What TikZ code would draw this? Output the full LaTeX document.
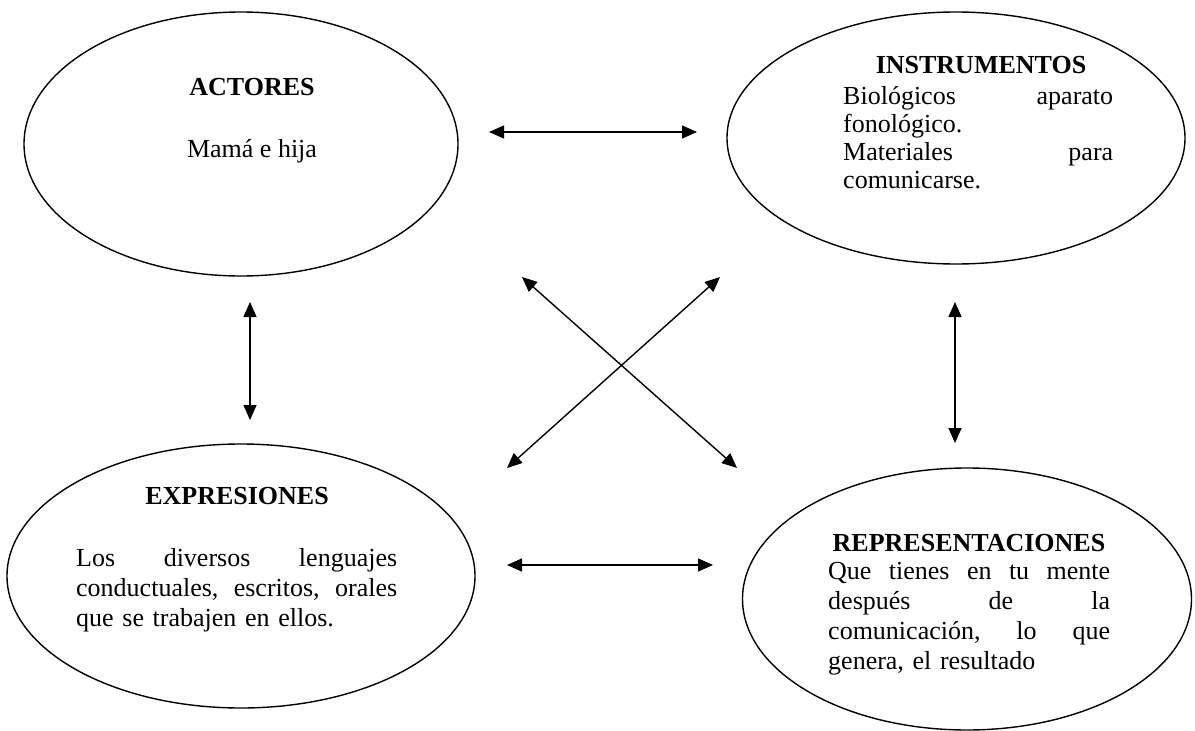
\documentclass[tikz,border=0pt]{standalone}
\usepackage{fontspec}
\setmainfont{Liberation Serif}
\usetikzlibrary{shapes.geometric,arrows.meta}

\begin{document}
\begin{tikzpicture}[x=1pt,y=-1pt,
    globo/.style={draw, ellipse, line width=1.4pt, inner sep=0pt},
    titulo/.style={anchor=base, inner sep=0pt, font=\fontsize{26}{28}\selectfont\bfseries},
    texto/.style={anchor=base west, inner sep=0pt, align=left, font=\fontsize{26}{30}\selectfont},
    flecha/.style={line width=1.4pt, {Triangle[length=15pt,width=13pt]}-{Triangle[length=15pt,width=13pt]}}]
  \useasboundingbox (0,0) rectangle (1195,731);

  % los cuatro globos
  \node[globo, minimum width=434pt, minimum height=264pt] (actores) at (241,144) {};
  \node[globo, minimum width=458pt, minimum height=252pt] (instrumentos) at (956,138) {};
  \node[globo, minimum width=468pt, minimum height=264pt] (expresiones) at (241,576) {};
  \node[globo, minimum width=449pt, minimum height=262pt] (representaciones) at (967,599) {};

  % textos
  \node[titulo] (tactores) at (252,95) {ACTORES};
  \node[anchor=base, inner sep=0pt, font=\fontsize{26}{28}\selectfont] (mama) at (252,157) {Mamá e hija};

  \node[titulo] (tinstrumentos) at (981,73) {INSTRUMENTOS};
  \node[texto, text width=270pt, font=\fontsize{26}{28}\selectfont] (binstrumentos) at (843,104)
    {Biológicos\hfill aparato\\fonológico.\\Materiales\hfill para\\comunicarse.};

  \node[titulo] (texpresiones) at (237,504) {EXPRESIONES};
  \node[texto, text width=321pt] (bexpresiones) at (76,566)
    {Los\hfill diversos\hfill lenguajes\\conductuales,\hfill escritos,\hfill orales\\que se trabajen en ellos.};

  \node[titulo] (trepresentaciones) at (969,551) {REPRESENTACIONES};
  \node[texto, text width=282pt] (brepresentaciones) at (828,579)
    {Que\hfill tienes\hfill en\hfill tu\hfill mente\\después\hfill de\hfill la\\comunicación,\hfill lo\hfill que\\genera, el resultado};

  % extremos de las flechas
  \coordinate (a1) at (489,132);  \coordinate (a2) at (697,132);
  \coordinate (b1) at (507,565);  \coordinate (b2) at (713,565);
  \coordinate (c1) at (250,302);  \coordinate (c2) at (250,420);
  \coordinate (d1) at (955,302);  \coordinate (d2) at (955,443);
  \coordinate (e1) at (522,277);  \coordinate (e2) at (737,468);
  \coordinate (f1) at (507,468);  \coordinate (f2) at (720,277);

  \draw[flecha] (a1) -- (a2);
  \draw[flecha] (b1) -- (b2);
  \draw[flecha] (c1) -- (c2);
  \draw[flecha] (d1) -- (d2);
  \draw[flecha] (e1) -- (e2);
  \draw[flecha] (f1) -- (f2);
\end{tikzpicture}
\end{document}
